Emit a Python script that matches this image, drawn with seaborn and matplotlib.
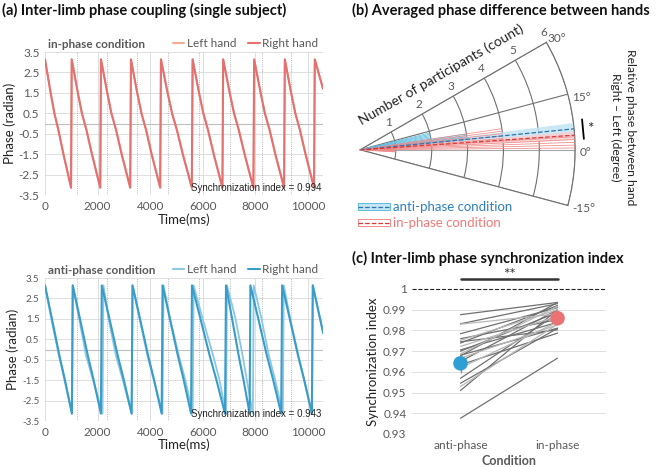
"""
Inter-limb phase coupling figure: phase traces, phase-difference rose and synchronization index.
"""

import numpy as np
import pandas as pd
import matplotlib
matplotlib.use('Agg')
import matplotlib.pyplot as plt
import seaborn as sns
from matplotlib.lines import Line2D
from matplotlib.patches import Patch

# ---------------- (a) phase traces (knot times in ms per cycle) ----------------
in_levels = [3.14, 1.5, 0.5, -0.3, -1.5, -3.14]
in_right_knots = [
    [0, 213, 355, 508, 700, 990],
    [1015, 1249, 1405, 1572, 1784, 2101],
    [2129, 2369, 2528, 2700, 2916, 3241],
    [3270, 3510, 3669, 3841, 4057, 4382],
    [4411, 4664, 4833, 5014, 5242, 5586],
    [5616, 5860, 6023, 6198, 6418, 6750],
    [6779, 7027, 7192, 7369, 7593, 7929],
    [7958, 8203, 8366, 8542, 8763, 9096],
    [9125, 9365, 9524, 9696, 9912, 10237],
]
in_left_knots = [
    [0, 220, 360, 500, 705, 995],
    [1020, 1255, 1400, 1580, 1790, 2105],
    [2133, 2375, 2520, 2705, 2920, 3245],
    [3274, 3505, 3675, 3850, 4060, 4385],
    [4415, 4670, 4840, 5020, 5250, 5590],
    [5620, 5865, 6030, 6205, 6425, 6755],
    [6783, 7030, 7200, 7375, 7600, 7932],
    [7962, 8210, 8370, 8550, 8770, 9100],
    [9129, 9370, 9530, 9700, 9920, 10240],
]
in_tail_time = [10266, 10580]
in_tail_phase = [3.14, 1.7]

anti_levels = [3.14, 1.5, -0.3, -1.5, -3.14]
anti_right_knots = [
    [0, 264, 549, 760, 1023],
    [1055, 1331, 1630, 1851, 2127],
    [2160, 2453, 2768, 3002, 3295],
    [3330, 3616, 3924, 4153, 4439],
    [4473, 4753, 5055, 5279, 5558],
    [5592, 5916, 6266, 6525, 6849],
    [6888, 7120, 7370, 7555, 7787],
    [7815, 8117, 8443, 8685, 8987],
    [9023, 9315, 9630, 9863, 10155],
]
anti_left_knots = [
    [0, 240, 530, 740, 1030],
    [1055, 1300, 1560, 1830, 2190],
    [2223, 2420, 2700, 2960, 3300],
    [3330, 3600, 3900, 4140, 4470],
    [4510, 4760, 5090, 5340, 5620],
    [5655, 6000, 6400, 6640, 6890],
    [6926, 7250, 7520, 7680, 7910],
    [7942, 8240, 8520, 8760, 9050],
    [9087, 9330, 9640, 9870, 10160],
]
anti_tail_time = [10190, 10587]
anti_tail_phase = [3.14, 0.8]

beat_times = [1204, 2345, 3510, 4689, 5868, 7034, 8239, 9379]
sync_in = 0.994
sync_anti = 0.943

# ---------------- (b) phase difference rose (degrees) ----------------
anti_bins_lo = [0, 5, 9]
anti_bins_hi = [5, 9, 14]
anti_counts = [1, 3, 2]
in_bins_lo = [-4, 0, 4]
in_bins_hi = [0, 4, 9]
in_counts = [1, 6, 4]
anti_mean_deg, anti_se_deg = 5.6, 1.7
in_mean_deg, in_se_deg = 3.9, 1.1
theta_ticks = [-15, 0, 15, 30]

# ---------------- (c) synchronization index ----------------
conditions = ['anti-phase', 'in-phase']
anti_sync = [0.9876, 0.9832, 0.9830, 0.9784, 0.9760, 0.9752, 0.9745, 0.9739,
             0.9723, 0.9706, 0.9700, 0.9687, 0.9680, 0.9677, 0.9666, 0.9650,
             0.9634, 0.9620, 0.9569, 0.9545, 0.9529, 0.9510, 0.9376]
in_sync = [0.9935, 0.9929, 0.9880, 0.9910, 0.9852, 0.9900, 0.9803, 0.9920,
           0.9868, 0.9839, 0.9887, 0.9916, 0.9811, 0.9935, 0.9827, 0.9900,
           0.9787, 0.9840, 0.9880, 0.9810, 0.9830, 0.9900, 0.9666]
group_mean = [0.9641, 0.9859]
group_sem = [0.0045, 0.0015]

GRAY = '#595959'
GRID = '#d9d9d9'
IN_R, IN_L = '#e4706f', '#f3ad97'
AN_R, AN_L = '#3a9cc9', '#8cc7e4'


def build_trace(knots, levels, tail_t, tail_p):
    t = [x for row in knots for x in row] + list(tail_t)
    p = list(levels) * len(knots) + list(tail_p)
    return pd.DataFrame({'Time': t, 'Phase': p})


sns.set_style('white')
plt.rcParams['font.family'] = ['Lato', 'DejaVu Sans']

fig = plt.figure(figsize=(6.59, 4.67), dpi=100)


def phase_panel(ax, left_df, right_df, c_left, c_right, title, sync, ytick_size):
    for x in np.arange(0, 10001, 2000):
        ax.axvline(x, color=GRID, lw=0.6, zorder=0)
    for y in np.arange(-3.5, 3.6, 1.0):
        ax.axhline(y, color=GRID, lw=0.6, zorder=0)
    ax.axhline(0, color='#bfbfbf', lw=0.8, zorder=0)
    for b in beat_times:
        ax.axvline(b, color='#a0a0a0', lw=0.6, ls=':', zorder=1)
    sns.lineplot(data=left_df, x='Time', y='Phase', sort=False, estimator=None,
                 color=c_left, lw=1.3, ax=ax)
    sns.lineplot(data=right_df, x='Time', y='Phase', sort=False, estimator=None,
                 color=c_right, lw=1.5, ax=ax)
    ax.set_xlim(0, 10580)
    ax.set_ylim(-3.5, 3.5)
    ax.set_xticks(np.arange(0, 10001, 2000))
    ax.set_yticks(np.arange(-3.5, 3.6, 1.0))
    ax.set_yticklabels([f'{v:.1f}' for v in np.arange(-3.5, 3.6, 1.0)])
    ax.tick_params(axis='x', length=0, labelsize=8.5, labelcolor=GRAY, pad=4)
    ax.tick_params(axis='y', length=0, labelsize=ytick_size, labelcolor=GRAY, pad=4)
    sns.despine(ax=ax, left=True, bottom=True)
    ax.set_xlabel('Time(ms)', fontsize=9.5, color='#222222', labelpad=1)
    ax.set_ylabel('Phase (radian)', fontsize=9.5, color='#222222', labelpad=2)
    ax.text(0.01, 1.015, title, transform=ax.transAxes, fontsize=8.5,
            fontweight='bold', color=GRAY, va='bottom')
    handles = [Line2D([], [], color=c_left, lw=1.5), Line2D([], [], color=c_right, lw=1.5)]
    ax.legend(handles, ['Left hand', 'Right hand'], loc='lower right',
              bbox_to_anchor=(1.0, 0.99), ncol=2, frameon=False, fontsize=8.5,
              handlelength=1.0, handletextpad=0.2, columnspacing=1.0,
              borderaxespad=0, labelcolor=GRAY)
    ax.text(0.995, 0.015, f'Synchronization index = {sync:.3f}', transform=ax.transAxes,
            ha='right', va='bottom', fontsize=7, family='Liberation Sans', color='#222222')


ax_in = fig.add_axes([0.0683, 0.5824, 0.4219, 0.3062])
phase_panel(ax_in,
            build_trace(in_left_knots, in_levels, in_tail_time, in_tail_phase),
            build_trace(in_right_knots, in_levels, in_tail_time, in_tail_phase),
            IN_L, IN_R, 'in-phase condition', sync_in, 8.5)

ax_an = fig.add_axes([0.0683, 0.0985, 0.4219, 0.3062])
phase_panel(ax_an,
            build_trace(anti_left_knots, anti_levels, anti_tail_time, anti_tail_phase),
            build_trace(anti_right_knots, anti_levels, anti_tail_time, anti_tail_phase),
            AN_L, AN_R, 'anti-phase condition', sync_anti, 7)

fig.text(0.003, 0.978, '(a) Inter-limb phase coupling (single subject)', fontsize=10.5,
         fontweight='bold', va='center', color='#111111')

# ---------------- (b) ----------------
BL_LINE, BL_BAND, BL_MEAN = '#5bbde0', '#c4e5f3', '#2f72b0'
RD_LINE, RD_BAND, RD_MEAN = '#f08a8a', '#f9cfcf', '#d93a3a'

axb = fig.add_axes([0.5463, 0.5024, 0.3293, 0.4647], projection='polar')
axb.set_thetamin(-15)
axb.set_thetamax(30)
axb.set_rlim(0, 6)
axb.set_rticks([1, 2, 3, 4, 5, 6])
axb.set_yticklabels([])
axb.set_xticks(np.deg2rad(theta_ticks))
axb.set_xticklabels([])
axb.grid(True, color='#707070', lw=0.8)
axb.xaxis.get_gridlines()[1].set_color('#a6a6a6')
for sp in axb.spines.values():
    sp.set_color('#707070')
    sp.set_linewidth(0.8)


def band(ax, mean, se, c_band, c_mean):
    th = np.deg2rad(np.linspace(mean - se, mean + se, 20))
    ax.fill_between(th, 0, 6, color=c_band, alpha=0.85, lw=0, zorder=2)
    ax.plot([np.deg2rad(mean)] * 2, [0, 6], color=c_mean, lw=0.9, ls='--', zorder=4)


def rose(ax, lo, hi, counts, color):
    for a, b, n in zip(lo, hi, counts):
        th = np.deg2rad(np.linspace(a + 0.5, b - 0.5, 5))
        ax.vlines(th, 0, n, color=color, lw=0.55, zorder=3)


band(axb, anti_mean_deg, anti_se_deg, BL_BAND, BL_MEAN)
band(axb, in_mean_deg, in_se_deg, RD_BAND, RD_MEAN)
rose(axb, anti_bins_lo, anti_bins_hi, anti_counts, BL_LINE)
rose(axb, in_bins_lo, in_bins_hi, in_counts, RD_LINE)

for r in range(1, 7):
    axb.annotate(str(r), xy=(np.deg2rad(30), r), xytext=(-2, 3), textcoords='offset points',
                 ha='center', va='bottom', fontsize=8.5, color=GRAY)
for t in theta_ticks:
    off = (1, 4) if t == 30 else (4, -3)
    axb.annotate(f'{t}°', xy=(np.deg2rad(t), 6), xytext=off, textcoords='offset pixels',
                 ha='left', va='center', fontsize=8.5, color=GRAY, annotation_clip=False)

# significance between the two means
th_top = np.deg2rad(anti_mean_deg + anti_se_deg + 0.5)
th_bot = np.deg2rad(in_mean_deg - in_se_deg)
axb.plot([th_bot, th_top], [6.25, 6.25], color='k', lw=1.3, clip_on=False)
axb.annotate('*', xy=((th_bot + th_top) / 2, 6.25), xytext=(7, 0), textcoords='offset pixels',
             fontsize=11, ha='center', va='center', annotation_clip=False)

fig.text(441 / 659, 1 - 75 / 467, 'Number of participants (count)', rotation=30,
         ha='center', va='center', fontsize=10, color='#222222')
fig.text(623 / 659, 1 - 127 / 467, 'Relative phase between hand\nRight – Left (degree)',
         rotation=-90, ha='center', va='center', fontsize=8.7, color='#222222',
         multialignment='center', linespacing=1.4)
fig.text(0.534, 0.978, '(b) Averaged phase difference between hands', fontsize=10.5,
         fontweight='bold', va='center', color='#111111')

leg_handles = [(Patch(fc=BL_BAND, ec=BL_LINE, lw=0.7), Line2D([], [], color=BL_MEAN, ls='--', lw=0.9)),
               (Patch(fc='white', ec=RD_LINE, lw=0.7), Line2D([], [], color=RD_MEAN, ls='--', lw=0.9))]
fig.legend(leg_handles, ['anti-phase condition', 'in-phase condition'], loc='upper left',
           bbox_to_anchor=(0.535, 1 - 196 / 467), frameon=False, fontsize=9.5,
           labelcolor=['#2f7fc0', '#f07a7a'], handlelength=2.4, handleheight=0.5,
           handletextpad=0.3, labelspacing=0.3, borderaxespad=0)

# ---------------- (c) ----------------
n_sub = len(anti_sync)
shade = ['dark' if i % 3 != 2 else 'light' for i in range(n_sub)]
pairs = pd.DataFrame({
    'Subject': list(range(n_sub)) * 2,
    'Condition': [conditions[0]] * n_sub + [conditions[1]] * n_sub,
    'Sync': anti_sync + in_sync,
    'Shade': shade * 2,
})

axc = fig.add_axes([0.6252, 0.0707, 0.2944, 0.3105])
for y in np.arange(0.93, 0.995, 0.01):
    axc.axhline(y, color=GRID, lw=0.6, zorder=0)
sns.lineplot(data=pairs, x='Condition', y='Sync', units='Subject', estimator=None,
             hue='Shade', palette={'dark': '#707070', 'light': '#b8b8b8'}, lw=0.9,
             legend=False, sort=False, ax=axc)
axc.errorbar(conditions, group_mean, yerr=group_sem, fmt='none', ecolor='#8a8a8a',
             elinewidth=1.0, capsize=0, zorder=4)
sns.scatterplot(x=conditions, y=group_mean, hue=conditions, palette=['#2e9fd3', '#ea7272'],
                s=110, legend=False, edgecolor='none', zorder=5, ax=axc)
axc.axhline(1.0, color='#222222', lw=0.8, ls='--', clip_on=False)
axc.plot([0, 1], [1.0048, 1.0048], color='#333333', lw=1.8, clip_on=False)
axc.text(0.5, 1.0036, '**', ha='center', va='bottom', fontsize=11, color='#333333')
axc.set_xlim(-0.5, 1.5)
axc.set_ylim(0.93, 1.0)
yt = [0.93, 0.94, 0.95, 0.96, 0.97, 0.98, 0.99, 1.0]
axc.set_yticks(yt)
axc.set_yticklabels(['0.93', '0.94', '0.95', '0.96', '0.97', '0.98', '0.99', '1'])
axc.tick_params(length=0, labelsize=8.5, labelcolor=GRAY, pad=4)
sns.despine(ax=axc, left=True, bottom=True)
axc.set_xlabel('Condition', fontsize=9, fontweight='bold', color=GRAY, labelpad=3)
axc.set_ylabel('Synchronization index', fontsize=9.5, color='#222222', labelpad=3)
fig.text(0.534, 1 - 258 / 467, '(c) Inter-limb phase synchronization index', fontsize=10.5,
         fontweight='bold', va='center', color='#111111')

fig.savefig('out.png', dpi=100)
